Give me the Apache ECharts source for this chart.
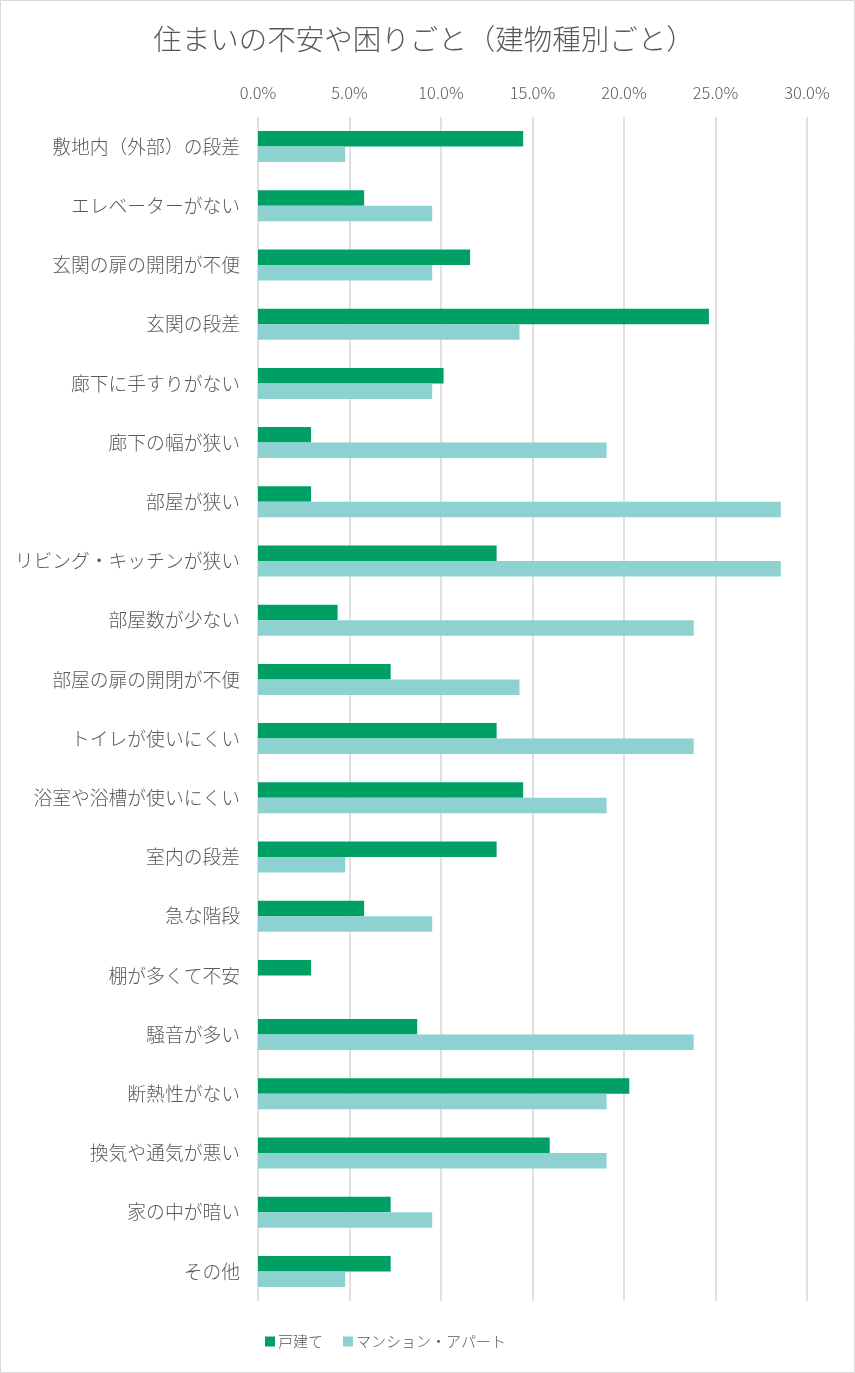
<!DOCTYPE html>
<html>
<head>
<meta charset="utf-8">
<script src="https://cdn.jsdelivr.net/npm/echarts@6/dist/echarts.min.js"></script>
<style>
  html, body { margin: 0; padding: 0; background: #fff; }
  #main { width: 855px; height: 1373px; }
</style>
</head>
<body>
<div id="main"></div>
<script>
// categories, top to bottom
const categories = [
  "敷地内（外部）の段差", "エレベーターがない", "玄関の扉の開閉が不便", "玄関の段差",
  "廊下に手すりがない", "廊下の幅が狭い", "部屋が狭い", "リビング・キッチンが狭い",
  "部屋数が少ない", "部屋の扉の開閉が不便", "トイレが使いにくい", "浴室や浴槽が使いにくい",
  "室内の段差", "急な階段", "棚が多くて不安", "騒音が多い",
  "断熱性がない", "換気や通気が悪い", "家の中が暗い", "その他"
];
// percent values
const detached = [
  14.49, 5.80, 11.59, 24.64, 10.14, 2.90, 2.90, 13.04, 4.35, 7.25,
  13.04, 14.49, 13.04, 5.80, 2.90, 8.70, 20.29, 15.94, 7.25, 7.25
];
const apartment = [
  4.76, 9.52, 9.52, 14.29, 9.52, 19.05, 28.57, 28.57, 23.81, 14.29,
  23.81, 19.05, 4.76, 9.52, 0, 23.81, 19.05, 19.05, 9.52, 4.76
];
const seriesNames = ["戸建て", "マンション・アパート"];
const titleText = "住まいの不安や困りごと（建物種別ごと）";

const FONT = "'Noto Sans CJK JP', 'Noto Sans', sans-serif";
const TEXT_COLOR = "#595959";

const chart = echarts.init(document.getElementById("main"), null, { renderer: "canvas" });

const option = {
  animation: false,
  backgroundColor: "#ffffff",
  textStyle: { fontFamily: FONT },
  title: {
    text: titleText,
    left: 419,
    textAlign: "center",
    top: 20,
    textStyle: { fontSize: 28.5, fontWeight: 300, color: TEXT_COLOR, fontFamily: FONT }
  },
  legend: {
    data: seriesNames,
    left: 260,
    top: 1329,
    icon: "rect",
    itemWidth: 10,
    itemHeight: 10,
    itemGap: 20,
    textStyle: { fontSize: 15, fontWeight: 300, color: TEXT_COLOR, fontFamily: FONT, padding: [0, 0, 0, -2] }
  },
  grid: { left: 258, right: 48, top: 117, bottom: 72, containLabel: false },
  xAxis: {
    type: "value",
    position: "top",
    min: 0,
    max: 30,
    interval: 5,
    axisLine: { show: false },
    axisTick: { show: false },
    axisLabel: {
      margin: 16,
      fontSize: 16.5,
      fontWeight: 300,
      color: TEXT_COLOR,
      fontFamily: FONT,
      formatter: (v) => v.toFixed(1) + "%"
    },
    splitLine: { show: true, lineStyle: { color: "#d6d6d6", width: 1.5 } }
  },
  yAxis: {
    type: "category",
    data: categories,
    inverse: true,
    axisLine: { show: false },
    axisTick: { show: false },
    axisLabel: { margin: 18, fontSize: 18.8, fontWeight: 300, color: TEXT_COLOR, fontFamily: FONT }
  },
  series: [
    {
      name: seriesNames[0],
      type: "bar",
      data: detached,
      barWidth: 15.5,
      barGap: "0%",
      itemStyle: { color: "#009F63" }
    },
    {
      name: seriesNames[1],
      type: "bar",
      data: apartment,
      barWidth: 15.5,
      barGap: "0%",
      itemStyle: { color: "#8DD1D1" }
    }
  ],
  graphic: [
    {
      type: "rect",
      silent: true,
      shape: { x: 0.5, y: 0.5, width: 854, height: 1372 },
      style: { fill: "none", stroke: "#d9d9d9", lineWidth: 1 }
    }
  ]
};

chart.setOption(option);
</script>
</body>
</html>
